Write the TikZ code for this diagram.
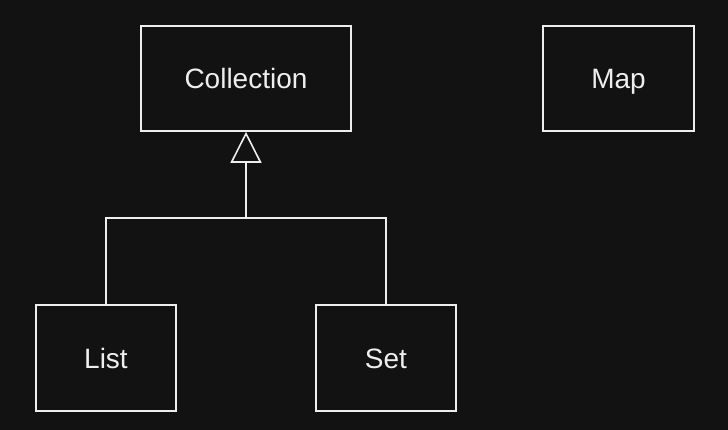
\documentclass[tikz,border=0pt]{standalone}
\usepackage{fontspec}
\setmainfont{Liberation Sans}
\usetikzlibrary{arrows.meta}
\definecolor{bg}{HTML}{121212}
\definecolor{fg}{HTML}{EEEEEE}
\begin{document}
\begin{tikzpicture}[x=1pt,y=-1pt,
  box/.style={draw=fg,line width=1.6pt,fill=bg,inner sep=0pt,text=fg,
    font=\fontsize{28}{32}\selectfont,text height=20pt,text depth=0pt},
  wire/.style={draw=fg,line width=1.6pt}]
\fill[bg] (0,0) rectangle (728,430);
\useasboundingbox (0,0) rectangle (728,430);
\node[box,minimum width=210pt,minimum height=105pt] (coll) at (246,78.5) {Collection};
\node[box,minimum width=151pt,minimum height=105pt] (map) at (618.5,78.5) {Map};
\node[box,minimum width=140pt,minimum height=106pt] (list) at (106,358) {List};
\node[box,minimum width=140pt,minimum height=106pt] (set) at (386,358) {Set};
\coordinate (j) at (246,218);
\draw[wire] (list.north) |- (j) -| (set.north);
\draw[wire,-{Triangle[open,length=31pt,width=31pt,fill=bg]}] (j) -- (coll.south);
\end{tikzpicture}
\end{document}
